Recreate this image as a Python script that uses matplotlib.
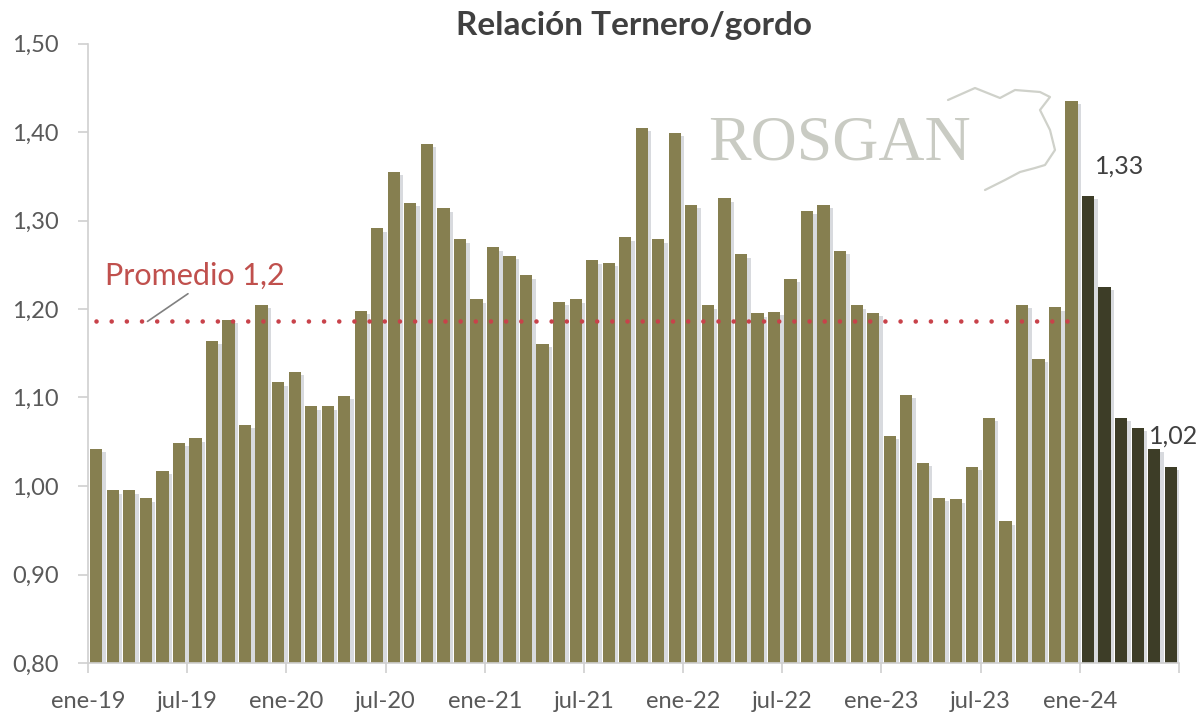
import matplotlib
matplotlib.use("Agg")
import matplotlib.pyplot as plt
import matplotlib.patheffects as pe
from matplotlib.path import Path
from matplotlib.patches import PathPatch

plt.rcParams['font.family'] = ['Lato', 'DejaVu Sans']

# ---- data ----
months = ['ene', 'feb', 'mar', 'abr', 'may', 'jun', 'jul', 'ago', 'sep', 'oct', 'nov', 'dic']
years = ['19', '20', '21', '22', '23', '24']
values = [1.042, 0.995, 0.995, 0.986, 1.017, 1.049, 1.054, 1.164, 1.188, 1.069,
          1.205, 1.117, 1.129, 1.090, 1.090, 1.102, 1.198, 1.291, 1.355, 1.320,
          1.387, 1.314, 1.279, 1.211, 1.270, 1.260, 1.238, 1.161, 1.208, 1.211,
          1.255, 1.252, 1.281, 1.405, 1.279, 1.399, 1.318, 1.204, 1.325, 1.262,
          1.195, 1.197, 1.234, 1.311, 1.318, 1.266, 1.204, 1.196, 1.057, 1.103,
          1.026, 0.987, 0.985, 1.022, 1.077, 0.960, 1.205, 1.144, 1.202, 1.435,
          1.328, 1.225, 1.077, 1.066, 1.042, 1.022]
categories = [f"{m}-{y}" for y in years for m in months][:len(values)]
highlight_from = 'ene-24'
average = 1.186
average_label = 'Promedio 1,2'
tick_labels = ['ene-19', 'jul-19', 'ene-20', 'jul-20', 'ene-21', 'jul-21',
               'ene-22', 'jul-22', 'ene-23', 'jul-23', 'ene-24']
yticks = [0.80, 0.90, 1.00, 1.10, 1.20, 1.30, 1.40, 1.50]
annot = {'ene-24': '1,33', 'jun-24': '1,02'}

# ---- figure ----
fig = plt.figure(figsize=(12, 7.14), dpi=100)
ax = fig.add_axes([88/1200, 1-663/714, (1179-88)/1200, (663-43.5)/714])

x = list(range(len(values)))
hi = categories.index(highlight_from)
light = '#867f50'
dark = '#3d3d27'
colors = [light if i < hi else dark for i in x]
shadow = [pe.SimplePatchShadow(offset=(2.5, -2.5), shadow_rgbFace='#a9aeb6', alpha=0.45), pe.Normal()]
bars = ax.bar(x, [v - 0.80 for v in values], bottom=0.80, width=0.74, color=colors, zorder=2)
for b in bars:
    b.set_path_effects(shadow)

ax.set_xlim(-0.5, len(values) - 0.5)
ax.set_ylim(0.80, 1.50)

# average line (dotted)
ax.plot([0, hi - 1], [average, average], color='#c8424a', lw=3.3,
        linestyle=(0, (0.01, 3.3)), dash_capstyle='round', zorder=4)
ax.annotate(average_label, xy=(3.1, average), xytext=(0.5, 1.238),
            color='#c0504d', fontsize=22, ha='left', va='center',
            arrowprops=dict(arrowstyle='-', color='#808080', lw=1.2,
                            shrinkA=2, shrinkB=0, relpos=(0.5, 0.0)), zorder=5)

# value labels
for cat, txt in annot.items():
    i = categories.index(cat)
    if i == hi:
        ax.text(i + 1.9, values[i] + 0.034, txt, ha='center', va='center', fontsize=18, color='#404040', zorder=5)
    else:
        ax.text(i + 0.2, values[i] + 0.034, txt, ha='center', va='center', fontsize=18, color='#404040', zorder=5)

# axes styling
for s in ['top', 'right']:
    ax.spines[s].set_visible(False)
for s in ['left', 'bottom']:
    ax.spines[s].set_color('#d0d0d0')
    ax.spines[s].set_linewidth(1.2)
ax.set_yticks(yticks)
ax.set_yticklabels([f"{t:.2f}".replace('.', ',') for t in yticks], fontsize=17, color='#595959')
tick_pos = [categories.index(t) - 0.5 for t in tick_labels]
ax.set_xticks(tick_pos + [len(values) - 0.5])
ax.set_xticklabels(tick_labels + [''], fontsize=17, color='#595959')
ax.tick_params(axis='both', colors='#d0d0d0', length=7, width=1.2, labelcolor='#595959')
ax.tick_params(axis='y', pad=14)
ax.tick_params(axis='x', pad=13)

fig.text((88 + 1179) / 2400, 1 - 25/714, 'Relación Ternero/gordo', ha='center', va='center',
         fontsize=24, fontweight='bold', color='#404040')

# logo (watermark)
fig.text(840/1200, 1 - 145/714, 'ROSGAN', ha='center', va='center', fontsize=46,
         family=['Liberation Serif', 'DejaVu Serif'], color='#c9cbc3', zorder=0)
verts = [(948, 100), (975, 88), (1000, 98), (1015, 90), (1040, 92), (1050, 97),
         (1040, 110), (1050, 130), (1055, 150), (1045, 165), (1035, 168),
         (1020, 172), (1005, 180), (985, 190)]
verts = [(vx/1200, 1 - vy/714) for vx, vy in verts]
codes = [Path.MOVETO] + [Path.LINETO] * (len(verts) - 1)
fig.patches.append(PathPatch(Path(verts, codes), transform=fig.transFigure, fill=False,
                             edgecolor='#cfd1ca', lw=1.6, joinstyle='round', capstyle='round'))

fig.savefig('out.png', dpi=100, facecolor='white')
